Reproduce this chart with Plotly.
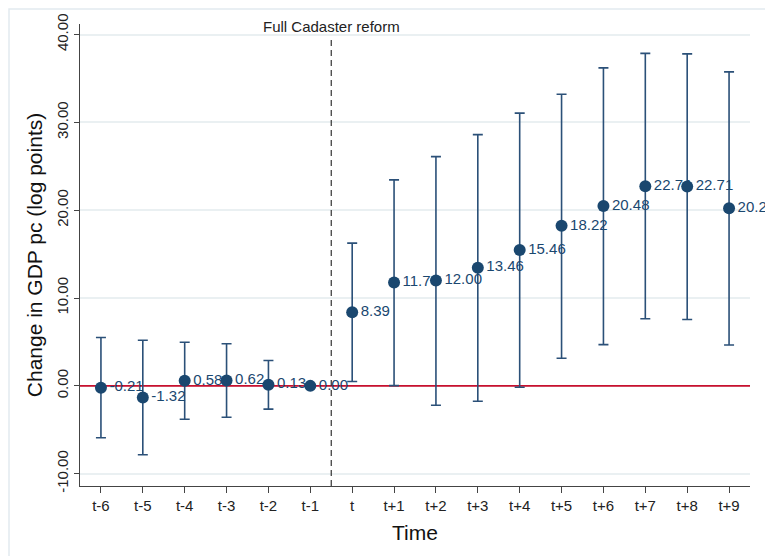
import plotly.graph_objects as go

periods = ["t-6", "t-5", "t-4", "t-3", "t-2", "t-1", "t", "t+1", "t+2", "t+3",
           "t+4", "t+5", "t+6", "t+7", "t+8", "t+9"]
estimates = [-0.21, -1.32, 0.58, 0.62, 0.13, 0.00, 8.39, 11.76, 12.00, 13.46,
             15.46, 18.22, 20.48, 22.74, 22.71, 20.22]
ci_upper = [5.5, 5.2, 4.97, 4.8, 2.88, 0.0, 16.25, 23.45, 26.1, 28.6,
            31.05, 33.2, 36.2, 37.85, 37.8, 35.75]
ci_lower = [-5.9, -7.85, -3.8, -3.57, -2.65, 0.0, 0.5, 0.03, -2.2, -1.75,
            -0.15, 3.15, 4.7, 7.65, 7.55, 4.65]
labels = [f"{v:.2f}" for v in estimates]
y_ticks = [-10, 0, 10, 20, 30, 40]
y_tick_text = ["-10.00", "0.00", "10.00", "20.00", "30.00", "40.00"]
reform_label = "Full Cadaster reform"

NAVY = "#1a476f"
FONT = "Liberation Sans, Arial, sans-serif"
xs = list(range(len(periods)))

fig = go.Figure()
fig.add_trace(go.Scatter(
    x=xs, y=estimates,
    mode="markers+text",
    text=labels,
    textposition="middle right",
    textfont=dict(family=FONT, size=15, color=NAVY),
    marker=dict(size=12, color=NAVY),
    error_y=dict(type="data", symmetric=False,
                 array=[u - e for u, e in zip(ci_upper, estimates)],
                 arrayminus=[e - l for e, l in zip(estimates, ci_lower)],
                 color="#2b5078", thickness=1.6, width=5),
    showlegend=False,
    cliponaxis=False,
))

shapes = [
    # zero line
    dict(type="line", xref="x", yref="y", x0=-0.5, x1=15.5, y0=0, y1=0,
         line=dict(color="#c8102e", width=1.6), layer="between"),
    # reform line
    dict(type="line", xref="x", yref="y", x0=5.5, x1=5.5, y0=-11.4, y1=39.6,
         line=dict(color="#333333", width=1.2, dash="6px,4px")),
    # outer frame
    dict(type="rect", xref="paper", yref="paper", x0=-71 / 670, x1=689 / 670,
         y0=-0.2, y1=477 / 462, line=dict(color="#e2eaef", width=1.5),
         fillcolor="rgba(0,0,0,0)", layer="above"),
]

# the page body adds an 8px offset; the figure is sized to fill the rest
fig.update_layout(
    width=765, height=548,
    margin=dict(l=72, r=23, t=16, b=70),
    paper_bgcolor="white", plot_bgcolor="white",
    font=dict(family=FONT, color="#222222"),
    shapes=shapes,
    annotations=[dict(text=reform_label, xref="x", yref="paper", x=5.5, y=0.994,
                      xanchor="center", yanchor="middle", showarrow=False,
                      font=dict(family=FONT, size=15, color="#222222"))],
)

fig.update_xaxes(
    range=[-0.5, 15.5], tickmode="array", tickvals=xs, ticktext=periods,
    showgrid=False, zeroline=False, showline=True, linecolor="#444444",
    linewidth=1.2, ticks="outside", ticklen=6, tickcolor="#444444",
    tickfont=dict(family=FONT, size=15, color="#222222"), automargin=False,
    title=dict(text="Time", font=dict(family=FONT, size=21, color="#111111"), standoff=12),
)
fig.update_yaxes(
    range=[-11.4, 41.2], tickmode="array", tickvals=y_ticks, ticktext=y_tick_text,
    tickangle=-90, showgrid=True, gridcolor="#eaf0f2", gridwidth=1.5,
    zeroline=False, showline=True, linecolor="#444444", linewidth=1.2,
    ticks="outside", ticklen=5, tickcolor="#444444",
    tickfont=dict(family=FONT, size=15, color="#222222"), automargin=False,
    title=dict(text="Change in GDP pc (log points)",
               font=dict(family=FONT, size=21, color="#111111"), standoff=5),
)

fig.write_html("out.html")
